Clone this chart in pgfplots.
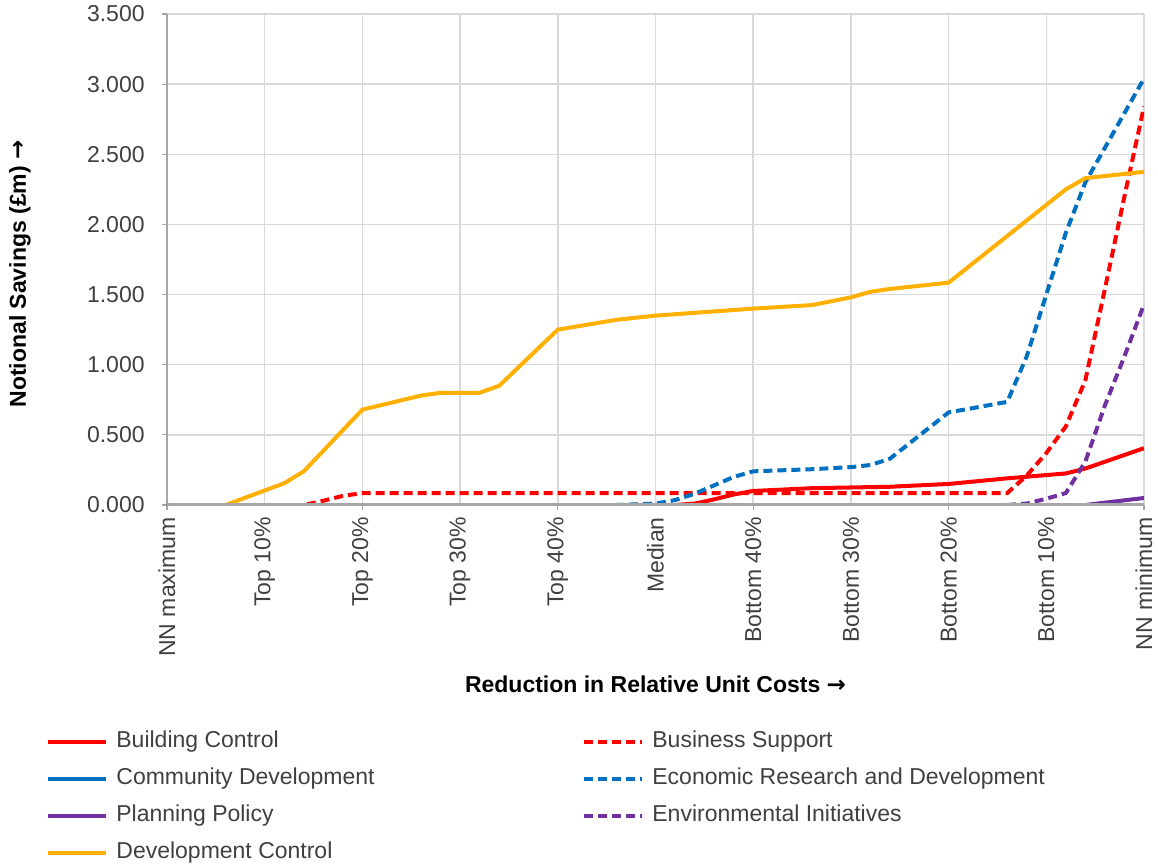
\documentclass[border=0pt]{standalone}
\usepackage{fontspec}
\setmainfont{Liberation Sans}
\newfontfamily\arrowfont{DejaVu Sans}
\usepackage{pgfplots}
\pgfplotsset{compat=1.18}
\definecolor{cRed}{HTML}{FF0000}
\definecolor{cBlue}{HTML}{0070C0}
\definecolor{cPurple}{HTML}{7030A0}
\definecolor{cOrange}{HTML}{FFB000}
\definecolor{cGrid}{HTML}{D9D9D9}
\definecolor{cAxis}{HTML}{A6A6A6}
\definecolor{cText}{HTML}{404040}
\begin{document}
\fontsize{11.5}{13.8}\selectfont
\begin{tikzpicture}
\begin{axis}[
  scale only axis, width=488.5pt, height=245.5pt,
  xmin=0, xmax=10, ymin=0, ymax=3.5,
  axis x line*=bottom, axis y line*=left,
  xtick={0,1,...,10},
  xticklabels={NN maximum, Top 10\%, Top 20\%, Top 30\%, Top 40\%, Median, Bottom 40\%, Bottom 30\%, Bottom 20\%, Bottom 10\%, NN minimum},
  xtick align=inside,
  x tick style={draw=none},
  xticklabel style={rotate=90, anchor=east, inner sep=0pt, text=cText},
  xticklabel shift=6pt,
  extra x ticks={0,2,...,10},
  extra x tick labels={},
  extra x tick style={grid=none, xtick align=outside, x tick style={draw=cAxis, line width=0.6pt}},
  ytick={0,0.5,...,3.5},
  ytick align=outside,
  y tick style={draw=cAxis, line width=0.6pt},
  major tick length=2.5pt,
  yticklabel style={anchor=east, inner sep=0pt, text=cText, /pgf/number format/.cd, fixed, fixed zerofill, precision=3, assume math mode=true},
  yticklabel shift=8.5pt,
  grid=major,
  major grid style={draw=cGrid, line width=0.75pt},
  y axis line style={draw=cAxis, line width=0.75pt},
  x axis line style={draw=cAxis, line width=0.75pt},
  every axis y label/.style={at={(rel axis cs:0,0.5)}, anchor=center, rotate=90, yshift=73.5pt, xshift=-7.25pt},
  every axis x label/.style={at={(rel axis cs:0.5,0)}, anchor=center, yshift=-89.5pt},
  ylabel={\textbf{Notional Savings (£m) {\arrowfont →}}},
  xlabel={\textbf{Reduction in Relative Unit Costs {\arrowfont →}}},
  legend columns=2,
  legend cell align=left,
  legend image code/.code={\draw[#1] (0pt,0pt) -- (29pt,0pt);},
  legend style={draw=none, fill=none, inner sep=0pt, at={(rel axis cs:0,0)}, anchor=north west, xshift=-60.5pt, yshift=-112.6pt,
    nodes={inner sep=0pt, text height=8.5pt, text depth=2.5pt, text=cText},
    row sep=7.5pt,
    /tikz/every odd column/.append style={column sep=4pt},
    /tikz/every even column/.append style={column sep=103.9pt}},
  every axis plot/.append style={line width=2pt},
]
\addplot[cRed] coordinates {(0,0) (5.2,0) (5.4,0.01) (5.6,0.04) (5.8,0.075) (6.0,0.10) (6.6,0.12) (7.0,0.125) (7.4,0.13) (8.0,0.15) (8.6,0.19) (9.2,0.225) (9.4,0.26) (10,0.405)};
\addlegendentry{Building Control}
\addplot[cRed, dash pattern=on 4.5pt off 2.5pt] coordinates {(0,0) (1.4,0) (1.6,0.03) (1.8,0.065) (2.0,0.085) (8.6,0.085) (8.8,0.21) (9.0,0.37) (9.2,0.56) (9.4,0.89) (9.6,1.54) (9.8,2.2) (10,2.84)};
\addlegendentry{Business Support}
\addplot[cBlue] coordinates {(0,0) (10,0)};
\addlegendentry{Community Development}
\addplot[cBlue, dash pattern=on 4.5pt off 2.5pt] coordinates {(0,0) (4.6,0) (5.0,0.01) (5.2,0.035) (5.4,0.08) (5.6,0.14) (5.8,0.2) (6.0,0.24) (6.6,0.255) (7.0,0.27) (7.2,0.285) (7.4,0.33) (7.6,0.44) (7.8,0.55) (8.0,0.66) (8.6,0.735) (8.8,1.06) (9.0,1.5) (9.2,1.94) (9.4,2.3) (10,3.04)};
\addlegendentry{Economic Research and Development}
\addplot[cPurple] coordinates {(0,0) (9.4,0) (10,0.05)};
\addlegendentry{Planning Policy}
\addplot[cPurple, dash pattern=on 4.5pt off 2.5pt] coordinates {(0,0) (8.6,0) (8.8,0.01) (9.0,0.045) (9.2,0.085) (9.4,0.31) (9.6,0.71) (9.8,1.06) (10,1.43)};
\addlegendentry{Environmental Initiatives}
\addplot[cOrange] coordinates {(0,0) (0.6,0) (1.2,0.155) (1.4,0.24) (2.0,0.68) (2.6,0.78) (2.8,0.80) (3.2,0.80) (3.4,0.85) (4.0,1.25) (4.6,1.32) (5.0,1.35) (6.0,1.40) (6.6,1.425) (7.0,1.48) (7.2,1.52) (7.4,1.54) (8.0,1.585) (9.2,2.25) (9.4,2.33) (10,2.375)};
\addlegendentry{Development Control}
\addplot[cAxis, line width=2.5pt, forget plot] coordinates {(0,0) (10,0)};
\end{axis}
\path (-83.5pt,-181pt) (495.5pt,252.5pt);
\end{tikzpicture}
\end{document}
